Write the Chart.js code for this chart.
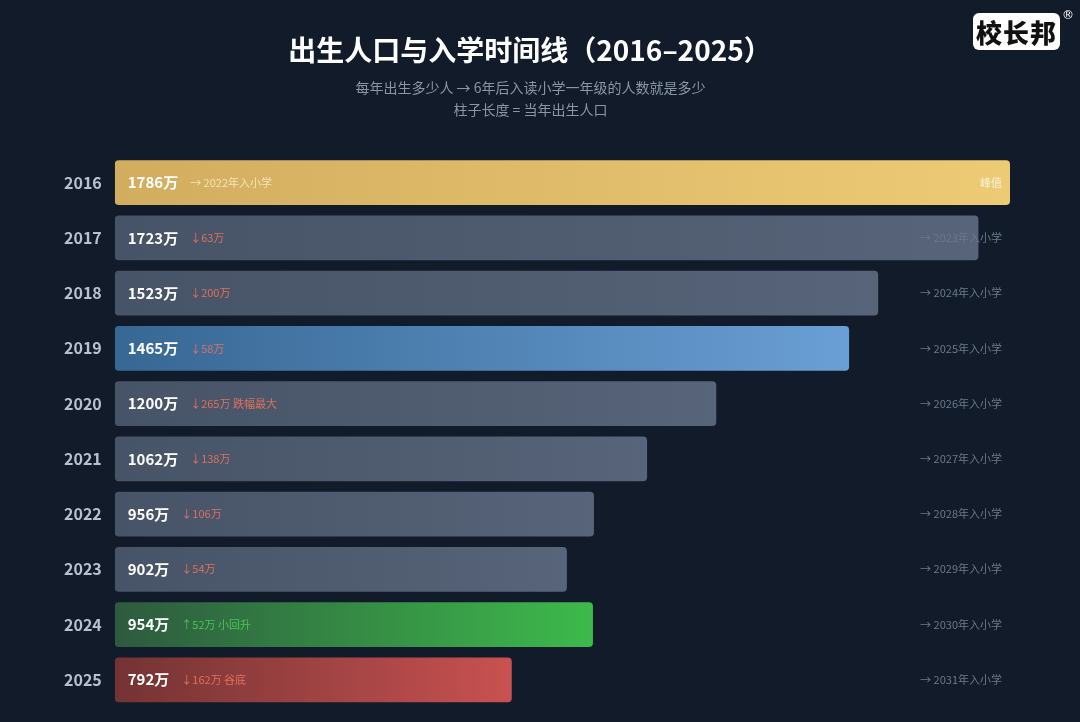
<!DOCTYPE html>
<html>
<head>
<meta charset="utf-8">
<script src="https://cdn.jsdelivr.net/npm/chart.js@4.4.1/dist/chart.umd.min.js"></script>
<style>
  html, body { margin: 0; padding: 0; background: #111b29; }
  body { width: 1080px; height: 722px; position: relative; overflow: hidden; font-family: "Noto Sans CJK SC", "Noto Sans", sans-serif; }
  #title { position: absolute; top: 29px; left: 0; width: 1060px; text-align: center; color: #ffffff; font-size: 28px; font-weight: 700; }
  #sub { position: absolute; top: 76px; left: 0; width: 1061px; text-align: center; color: #8a96a6; font-size: 14px; line-height: 22px; }
  #logo { position: absolute; left: 973px; top: 13px; width: 87px; height: 37px; background: #fff; border-radius: 6px; color: #111; font-weight: 900; font-size: 26px; line-height: 37px; text-align: center; letter-spacing: 1px; }
  #reg { position: absolute; left: 1062px; top: 8px; color: #fff; font-size: 12px; font-family: "DejaVu Sans", sans-serif; }
  #wrap { position: absolute; left: 0; top: 0; width: 1080px; height: 722px; }
</style>
</head>
<body>
<div id="wrap"><canvas id="timeline" width="1080" height="722"></canvas></div>
<div id="title">出生人口与入学时间线（2016–2025）</div>
<div id="sub">每年出生多少人 → 6年后入读小学一年级的人数就是多少<br>柱子长度 = 当年出生人口</div>
<div id="logo">校长邦</div>
<div id="reg">®</div>
<script>
// ── Data ──
const years = ['2016', '2017', '2018', '2019', '2020', '2021', '2022', '2023', '2024', '2025'];
const births = [1786, 1723, 1523, 1465, 1200, 1062, 956, 902, 954, 792]; // 万
const changeNotes = ['→ 2022年入小学', '↓63万', '↓200万', '↓58万', '↓265万 跌幅最大', '↓138万', '↓106万', '↓54万', '↑52万 小回升', '↓162万 谷底'];
const schoolNotes = ['峰值', '→ 2023年入小学', '→ 2024年入小学', '→ 2025年入小学', '→ 2026年入小学',
                     '→ 2027年入小学', '→ 2028年入小学', '→ 2029年入小学', '→ 2030年入小学', '→ 2031年入小学'];

// ── Styles ──
const FONT = '"Noto Sans CJK SC", "Noto Sans", sans-serif';
const gradStops = {
    peak:  ['#d2ad5f', '#edcb75'],
    gray:  ['#475366', '#576479'],
    blue:  ['#376793', '#6a9fd5'],
    green: ['#2d5a3e', '#3dba4b'],
    red:   ['#743333', '#c95151']
};
const barStyle = (i) => {
    if (i === 0) return 'peak';
    if (years[i] === '2019') return 'blue';
    if (changeNotes[i].startsWith('↑')) return 'green';
    if (i === births.length - 1) return 'red';
    return 'gray';
};
const noteColor = (i) => {
    if (i === 0) return 'rgba(255,245,215,0.75)';
    if (changeNotes[i].startsWith('↑')) return '#4cc35a';
    return '#e0705c';
};

// ── Label plugin ──
const barLabels = {
    id: 'barLabels',
    afterDatasetsDraw(chart) {
        const ctx = chart.ctx;
        const meta = chart.getDatasetMeta(0);
        const area = chart.chartArea;
        ctx.save();
        ctx.textBaseline = 'middle';
        meta.data.forEach((bar, i) => {
            const y = bar.y;
            const x0 = bar.base + 13;
            ctx.font = `700 15px ${FONT}`;
            ctx.fillStyle = '#ffffff';
            ctx.textAlign = 'left';
            const valText = births[i] + '万';
            ctx.fillText(valText, x0, y);
            const w = ctx.measureText(valText).width;
            ctx.font = `400 11px ${FONT}`;
            ctx.fillStyle = noteColor(i);
            ctx.fillText(changeNotes[i], x0 + w + 12, y);
            ctx.textAlign = 'right';
            ctx.fillStyle = i === 0 ? 'rgba(255,255,255,0.7)' : '#6d798b';
            ctx.fillText(schoolNotes[i], area.right - 8, y);
        });
        ctx.restore();
    }
};

const ctx = document.getElementById('timeline').getContext('2d');
new Chart(ctx, {
    type: 'bar',
    data: {
        labels: years,
        datasets: [{
            data: births,
            backgroundColor: (c) => {
                const chart = c.chart;
                if (!chart.chartArea || c.dataIndex === undefined) return '#4a5568';
                const xs = chart.scales.x;
                const x1 = xs.getPixelForValue(0);
                const x2 = xs.getPixelForValue(births[c.dataIndex]);
                const stops = gradStops[barStyle(c.dataIndex)];
                const g = chart.ctx.createLinearGradient(x1, 0, x2, 0);
                g.addColorStop(0, stops[0]);
                g.addColorStop(1, stops[1]);
                return g;
            },
            borderRadius: 4,
            borderSkipped: false,
            barPercentage: 0.81,
            categoryPercentage: 1
        }]
    },
    options: {
        indexAxis: 'y',
        responsive: false,
        animation: false,
        layout: { padding: { left: 59, right: 70, top: 155, bottom: 0 } },
        scales: {
            x: { display: false, min: 0, max: 1786 },
            y: {
                grid: { display: false },
                border: { display: false },
                ticks: {
                    color: '#b8c2cf',
                    padding: 5,
                    font: { family: FONT, size: 16, weight: '700' }
                }
            }
        },
        plugins: {
            legend: { display: false },
            tooltip: { enabled: false }
        }
    },
    plugins: [barLabels]
});
</script>
</body>
</html>
